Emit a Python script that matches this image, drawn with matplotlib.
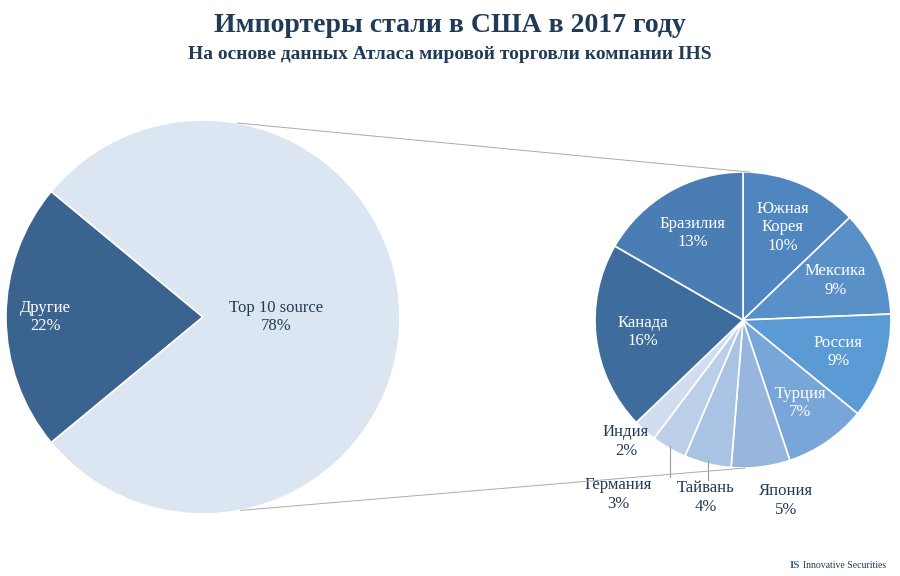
import numpy as np
import matplotlib
matplotlib.use("Agg")
import matplotlib.pyplot as plt
from matplotlib.patches import ConnectionPatch

main_labels = ["Другие", "Top 10 source"]
main_values = [22, 78]
sub_labels = ["Южная\nКорея", "Мексика", "Россия", "Турция", "Япония", "Тайвань",
              "Германия", "Индия", "Канада", "Бразилия"]
sub_values = [10, 9, 9, 7, 5, 4, 3, 2, 16, 13]

main_colors = ["#3a648f", "#dce6f2"]
sub_colors = ["#4f86c0", "#5a90c8", "#5b9bd5", "#78a6d9", "#97b6de", "#a9c3e4",
              "#bccfe9", "#d2def0", "#3e6c9c", "#4a7db3"]
txt = "#1f3b57"
plt.rcParams["font.family"] = "Liberation Serif"

fig = plt.figure(figsize=(9, 5.76), dpi=100)
fig.text(0.5, 0.955, "Импортеры стали в США в 2017 году", ha="center", va="center",
         fontsize=20, fontweight="bold", color=txt)
fig.text(0.5, 0.905, "На основе данных Атласа мировой торговли компании IHS", ha="center",
         va="center", fontsize=14, fontweight="bold", color=txt)

ax1 = fig.add_axes([6/900, 62/576, 394/900, 394/576])
w1, _ = ax1.pie(main_values, colors=main_colors, startangle=180 - 0.22*180,
                counterclock=True, wedgeprops=dict(edgecolor="white", linewidth=1.2))
ax1.set_xlim(-1, 1); ax1.set_ylim(-1, 1); ax1.set_aspect("equal")
for w, lab, v, col in zip(w1, main_labels, main_values, ["white", txt]):
    a = np.deg2rad((w.theta1 + w.theta2) / 2)
    r = 0.8 if lab == "Другие" else 0.37
    ax1.text(r*np.cos(a), r*np.sin(a), f"{lab}\n{v}%", ha="center", va="center",
             fontsize=12, color=col, linespacing=1.2)

ax2 = fig.add_axes([595/900, 108/576, 296/900, 296/576])
w2, _ = ax2.pie(sub_values, colors=sub_colors, startangle=90, counterclock=False,
                wedgeprops=dict(edgecolor="white", linewidth=1.2))
ax2.set_xlim(-1, 1); ax2.set_ylim(-1, 1); ax2.set_aspect("equal")
outside = {"Индия": (-0.79, -0.82), "Германия": (-0.84, -1.18),
           "Тайвань": (-0.25, -1.2), "Япония": (0.29, -1.22)}
for w, lab, v in zip(w2, sub_labels, sub_values):
    a = np.deg2rad((w.theta1 + w.theta2) / 2)
    s = f"{lab}\n{v}%"
    if lab in outside:
        x, y = outside[lab]
        ax2.text(x, y, s, ha="center", va="center", fontsize=12, color=txt, linespacing=1.2)
        if lab in ("Германия", "Тайвань"):
            ax2.plot([0.98*np.cos(a), 0.98*np.cos(a)], [0.98*np.sin(a), y + 0.12],
                     color="#999999", lw=0.8, clip_on=False)
    else:
        r = 0.68
        ax2.text(r*np.cos(a), r*np.sin(a), s, ha="center", va="center", fontsize=12,
                 color="white", linespacing=1.2)

for ang1, ang2 in [(80, 87), (-79, -89)]:
    a1, a2 = np.deg2rad(ang1), np.deg2rad(ang2)
    cp = ConnectionPatch(xyA=(np.cos(a1), np.sin(a1)), coordsA=ax1.transData,
                         xyB=(np.cos(a2), np.sin(a2)), coordsB=ax2.transData,
                         color="#aaaaaa", lw=0.7)
    fig.add_artist(cp)

fig.text(0.985, 0.018, "Innovative Securities", ha="right", va="center", fontsize=7, color=txt)
fig.text(0.889, 0.018, "IS", ha="right", va="center", fontsize=8, fontweight="bold",
         color="#3a648f")
fig.savefig("out.png", dpi=100)
